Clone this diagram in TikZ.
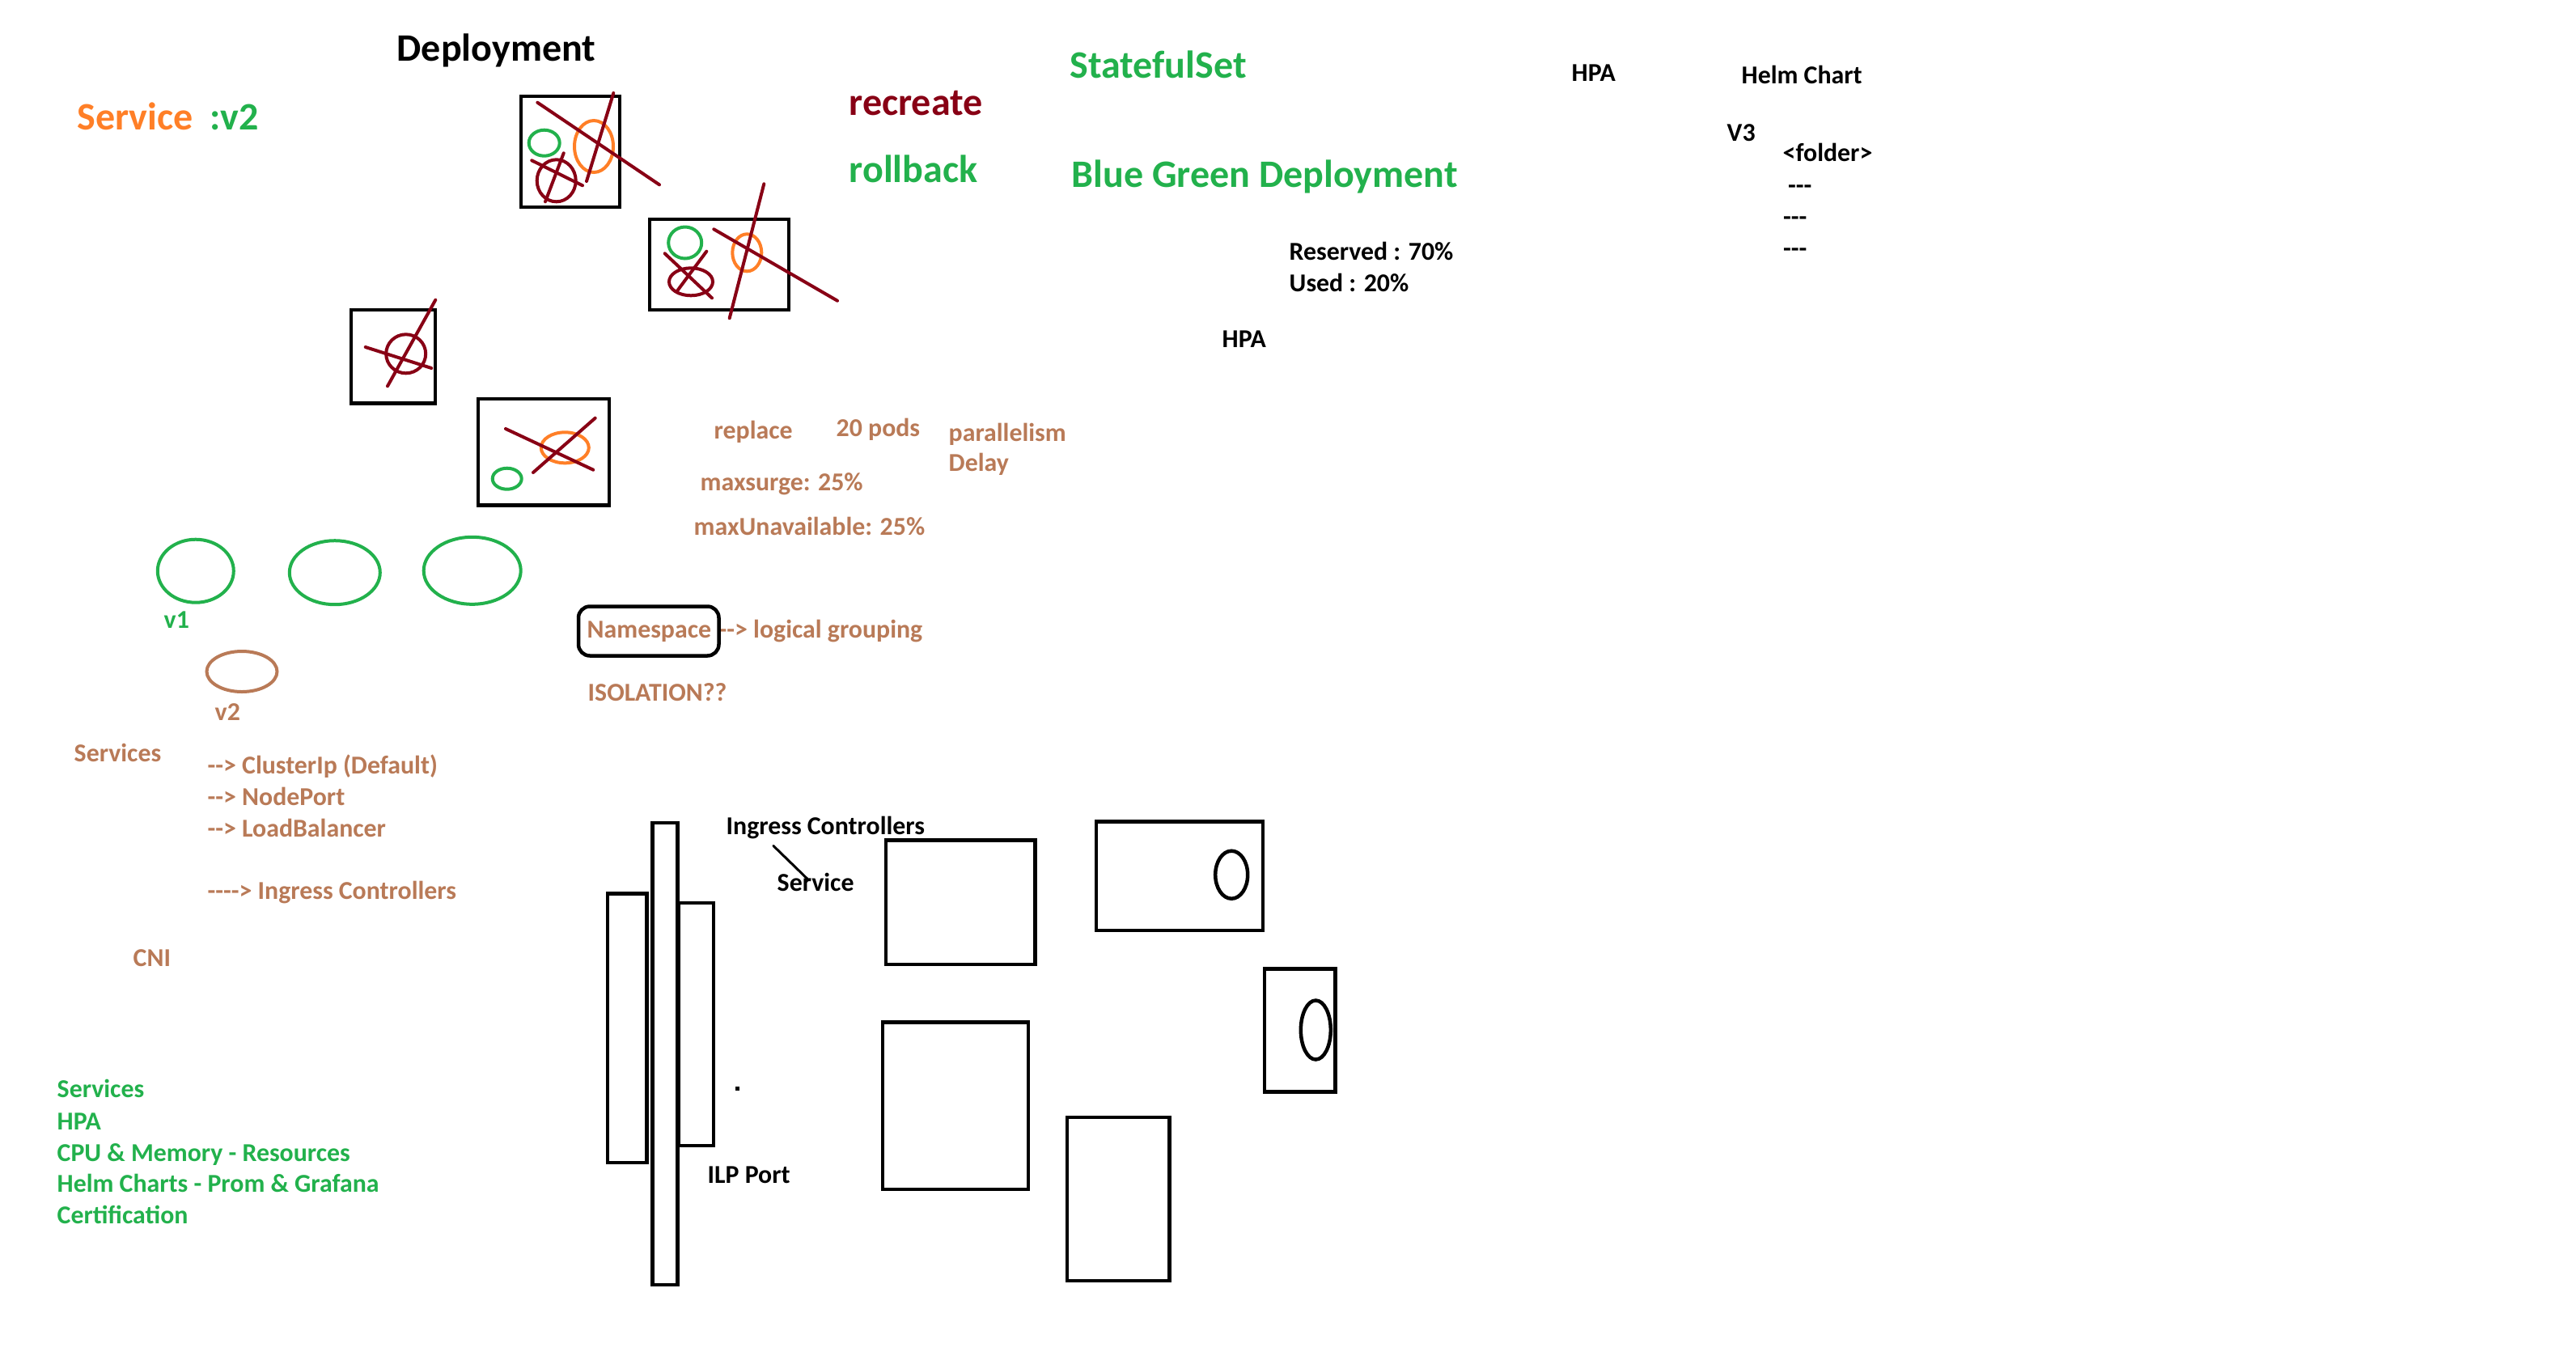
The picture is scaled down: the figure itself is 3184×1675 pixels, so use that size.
\documentclass[tikz,border=0pt]{standalone}
\usepackage{fontspec}
\setmainfont{Carlito}[Ligatures=TeXOff]
\definecolor{porange}{HTML}{FF7F27}
\definecolor{pgreen}{HTML}{22B14C}
\definecolor{pred}{HTML}{880015}
\definecolor{pbrown}{HTML}{B97A57}
\tikzset{
  big/.style={font=\fontsize{13.65}{16}\selectfont\bfseries, inner sep=0pt, anchor=base west},
  small/.style={font=\fontsize{9.05}{11}\selectfont\bfseries, inner sep=0pt, anchor=base west},
  pen/.style={line width=0.04cm},
  cross/.style={line width=0.04cm, draw=pred, line cap=round},
  boxline/.style={line width=0.045cm, draw=black},
}
\begin{document}
\begin{tikzpicture}[x=0.01cm,y=-0.01cm]
\useasboundingbox[fill=white] (0,0) rectangle (3184,1675);

% ---------- headings ----------
\node[big] (dep) at (490,75) {Deployment};
\node[big, text=porange] (svc) at (95,160) {Service};
\node[big, text=pgreen] (v2top) at (259,160) {:v2};
\node[big, text=pred] (recreate) at (1049,142.7) {recreate};
\node[big, text=pgreen] (rollback) at (1049,225.7) {rollback};
\node[big, text=pgreen] (sts) at (1322,96.7) {StatefulSet};
\node[big, text=pgreen] (bgd) at (1324,231.7) {Blue Green Deployment};

% ---------- right black notes ----------
\node[small] (hpa1) at (1942,100) {HPA};
\node[small] (helm) at (2152,103.3) {Helm Chart};
\node[small] (v3) at (2134,174) {V3};
\node[small] (folder) at (2203,199.5) {<folder>};
\node[small] (dashA) at (2209.5,239.7) {---};
\node[small] (dashB) at (2203.5,278) {---};
\node[small] (dashC) at (2203.5,317.3) {---};
\node[small] (res) at (1593,321.7) {Reserved : 70\%};
\node[small] (used) at (1593,360) {Used : 20\%};
\node[small] (hpa2) at (1510,429.3) {HPA};

% ---------- brown rollout notes ----------
\begin{scope}[every node/.append style={text=pbrown}]
\node[small] (replace) at (882,542.7) {replace};
\node[small] (pods) at (1033,539.3) {20 pods};
\node[small] (parallel) at (1172,545) {parallelism};
\node[small] (delay) at (1172,582.5) {Delay};
\node[small] (surge) at (865,606) {maxsurge: 25\%};
\node[small] (unav) at (857,661.7) {maxUnavailable: 25\%};
\node[small] (nstext) at (725,788.3) {Namespace};
\node[small] (logical) at (888,788.3) {--> logical grouping};
\node[small] (isol) at (726,866.7) {ISOLATION??};
\node[small] (services) at (91,941.7) {Services};
\node[small] (cip) at (256,956.7) {--> ClusterIp (Default)};
\node[small] (np) at (256,995) {--> NodePort};
\node[small] (lb) at (256,1034) {--> LoadBalancer};
\node[small] (ingl) at (256,1111.7) {----> Ingress Controllers};
\node[small] (cni) at (164,1194) {CNI};
\node[small] (v2lbl) at (265,890) {v2};
\end{scope}
\node[small, text=pgreen] (v1lbl) at (202,776.7) {v1};

% ---------- green summary list ----------
\begin{scope}[every node/.append style={text=pgreen}]
\node[small] (g1) at (70,1356.7) {Services};
\node[small] (g2) at (70,1396) {HPA};
\node[small] (g3) at (70,1435) {CPU \& Memory - Resources};
\node[small] (g4) at (70,1473.3) {Helm Charts - Prom \& Grafana};
\node[small] (g5) at (70,1512.7) {Certification};
\end{scope}

% ---------- deployment sketches ----------
% box 1
\draw[boxline] (644,119) rectangle (766,256);
\draw[pen, draw=pgreen] (672.7,176.7) ellipse [x radius=19, y radius=16];
\draw[pen, draw=porange] (734,181) ellipse [x radius=24, y radius=32];
\draw[pen, draw=pred] (687.7,223.3) ellipse [x radius=24, y radius=26];
\draw[cross] (664.3,126.7) -- (815,228.3);
\draw[cross] (758.3,115) -- (725,224);
\draw[cross] (657.3,198.3) -- (720,229.3);
\draw[cross] (696.7,189.3) -- (674,249.3);
% box 2
\draw[boxline] (803,271) rectangle (975,383);
\draw[pen, draw=pgreen] (846.7,300) ellipse [x radius=20.5, y radius=19.5];
\draw[pen, draw=porange] (923.3,312.3) ellipse [x radius=18, y radius=23];
\draw[pen, draw=pred] (854,348.3) ellipse [x radius=27, y radius=17];
\draw[cross] (821.7,313.3) -- (880,368.3);
\draw[cross] (873.3,310.7) -- (836.7,360);
\draw[cross] (882.3,283.3) -- (1035,371.7);
\draw[cross] (944.3,227.3) -- (901.7,393.3);
% box 3
\draw[boxline] (434,383) rectangle (538,498.5);
\draw[pen, draw=pred] (501.7,437.3) ellipse [x radius=24.5, y radius=24];
\draw[cross] (451.7,429) -- (533.3,455);
\draw[cross] (538.3,370.7) -- (479,477.3);
% box 4
\draw[boxline] (591,493) rectangle (753,624.5);
\draw[pen, draw=porange] (698.3,553.3) ellipse [x radius=29.5, y radius=19];
\draw[pen, draw=pgreen] (626.7,591.7) ellipse [x radius=18, y radius=13];
\draw[cross] (625,530) -- (733.3,580.7);
\draw[cross] (735.7,516.7) -- (659,584);

% ---------- pods ----------
\draw[pen, draw=pgreen] (241.8,705.7) ellipse [x radius=47, y radius=39];
\draw[pen, draw=pgreen] (413.8,707.7) ellipse [x radius=56, y radius=39.5];
\draw[pen, draw=pgreen] (583.7,705.3) ellipse [x radius=60, y radius=41.5];
\draw[pen, draw=pbrown] (299,830) ellipse [x radius=43.5, y radius=25];

% namespace box
\draw[boxline, rounded corners=4pt] (715,749.5) rectangle (888.5,810.5);

% ---------- ingress sketch ----------
\draw[boxline] (806.5,1017) rectangle (837.5,1588);
\draw[boxline] (751,1104.5) rectangle (799.5,1437);
\draw[boxline] (838.5,1116) rectangle (882,1416);
\fill (909,1343) rectangle (914,1348);
\node[small] (ingc) at (897,1031) {Ingress Controllers};
\node[small] (svc2) at (960,1101.6) {Service};
\node[small] (ilp) at (874,1462) {ILP Port};
\coordinate (ptrA) at (955.8,1045.3);
\coordinate (ptrB) at (998.6,1086.9);
\draw[line width=0.03cm, line cap=round] (ptrA) -- (ptrB);

\draw[boxline] (1095,1038.5) rectangle (1279.5,1192);
\draw[boxline] (1355,1015.5) rectangle (1561,1150);
\draw[boxline] (1522.2,1081.2) ellipse [x radius=20, y radius=29.5];
\draw[boxline] (1563,1197.5) rectangle (1650.5,1349.5);
\draw[boxline] (1626.3,1273) ellipse [x radius=18.5, y radius=36.5];
\draw[boxline] (1091,1263.5) rectangle (1271,1470);
\draw[boxline] (1319,1381) rectangle (1445.5,1583);
\end{tikzpicture}
\end{document}
